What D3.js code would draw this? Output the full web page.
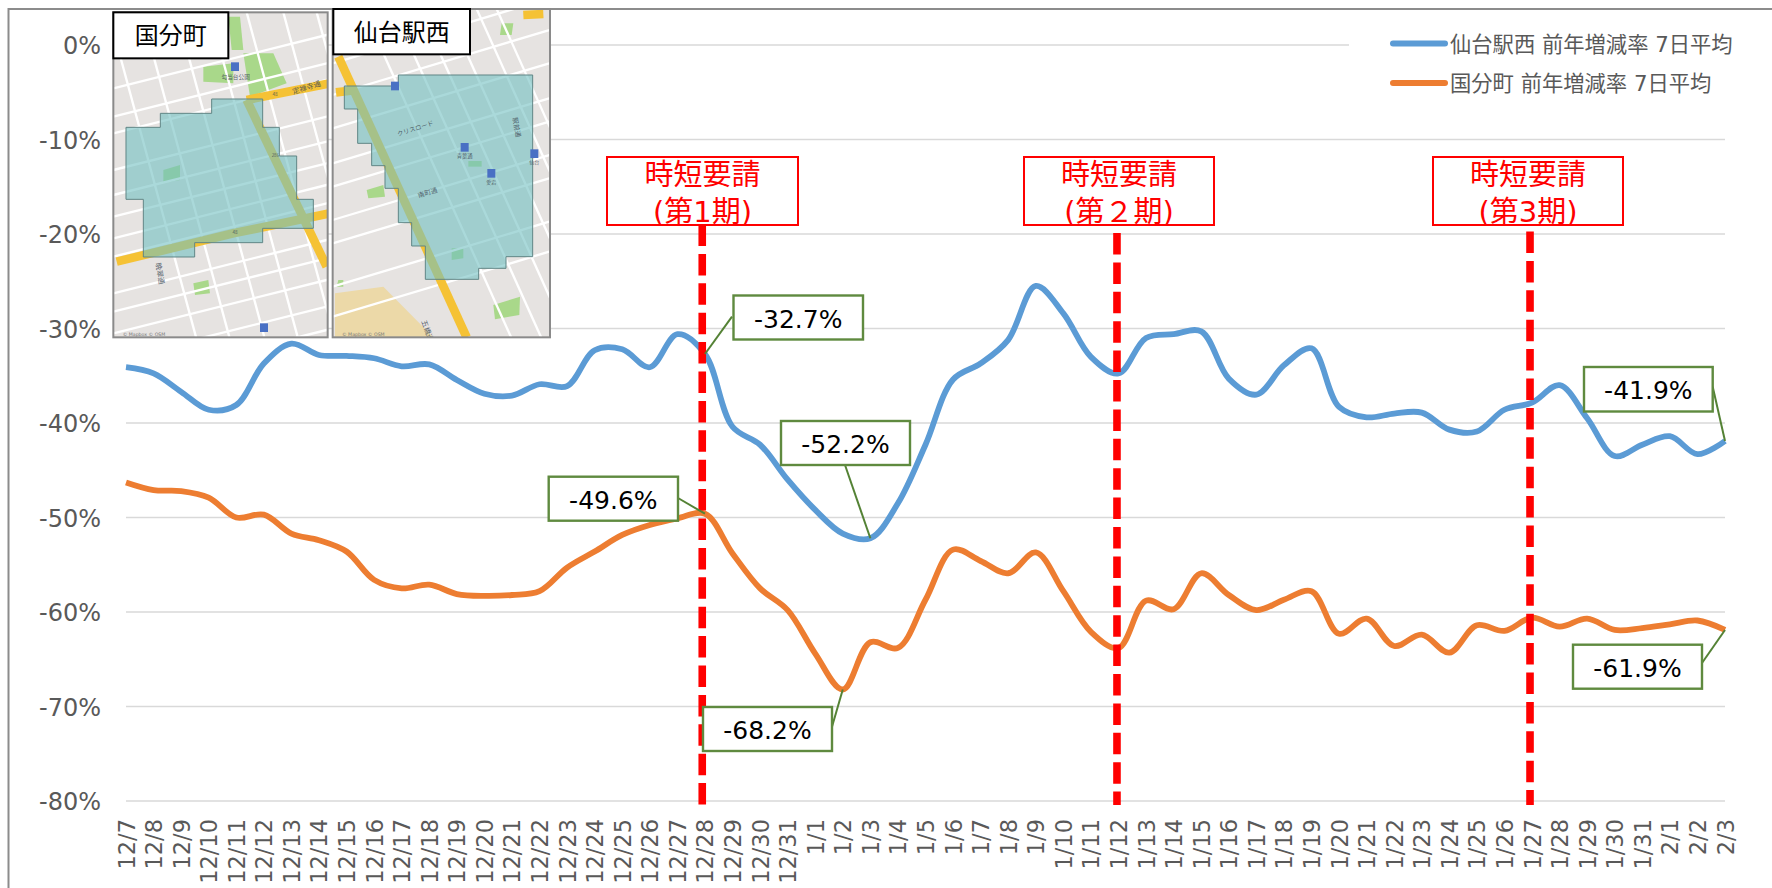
<!DOCTYPE html>
<html lang="ja"><head><meta charset="utf-8">
<script src="https://cdnjs.cloudflare.com/ajax/libs/d3/7.8.5/d3.min.js"></script>
<style>html,body{margin:0;padding:0;background:#fff;overflow:hidden}svg{display:block}</style>
</head><body><div id="c"></div>
<script>
const dates = ["12/7","12/8","12/9","12/10","12/11","12/12","12/13","12/14","12/15","12/16","12/17","12/18","12/19","12/20","12/21","12/22","12/23","12/24","12/25","12/26","12/27","12/28","12/29","12/30","12/31","1/1","1/2","1/3","1/4","1/5","1/6","1/7","1/8","1/9","1/10","1/11","1/12","1/13","1/14","1/15","1/16","1/17","1/18","1/19","1/20","1/21","1/22","1/23","1/24","1/25","1/26","1/27","1/28","1/29","1/30","1/31","2/1","2/2","2/3"];
const sendaiWest = [-34.1,-34.75,-36.7,-38.6,-38.1,-33.7,-31.6,-32.8,-32.9,-33.15,-34.0,-33.8,-35.45,-36.9,-37.1,-35.9,-36.1,-32.3,-32.2,-34.1,-30.6,-32.7,-40.4,-42.3,-46.0,-49.2,-51.7,-52.2,-48.5,-42.3,-35.4,-33.7,-31.2,-25.5,-28.4,-33.0,-34.75,-31.0,-30.6,-30.3,-35.3,-37.0,-33.9,-32.1,-38.3,-39.4,-39.0,-38.9,-40.7,-40.9,-38.6,-37.85,-36.0,-39.5,-43.5,-42.3,-41.4,-43.3,-41.9];
const kokubuncho = [-46.3,-47.1,-47.2,-47.9,-50.0,-49.7,-51.7,-52.4,-53.6,-56.6,-57.5,-57.1,-58.1,-58.3,-58.2,-57.8,-55.3,-53.6,-51.85,-50.8,-50.1,-49.6,-53.8,-57.5,-59.8,-64.4,-68.2,-63.2,-63.8,-58.7,-53.4,-54.6,-55.9,-53.7,-57.8,-62.1,-63.8,-58.8,-59.7,-55.9,-58.2,-59.8,-58.7,-57.8,-62.3,-60.7,-63.6,-62.4,-64.3,-61.4,-62.0,-60.6,-61.55,-60.7,-61.9,-61.7,-61.3,-60.9,-61.9];
const yTicks = [0,-10,-20,-30,-40,-50,-60,-70,-80];
const seriesNames = ["仙台駅西 前年増減率 7日平均","国分町 前年増減率 7日平均"];
const seriesColors = ["#5B9BD5","#ED7D31"];
const periods = [
  {date:"12/28",lines:["時短要請","(第1期)"],box:[607,157,191,68],top:224.5,dx:-2.7},
  {date:"1/12", lines:["時短要請","(第２期)"],box:[1024,157,190,68],top:233,dx:-1.5},
  {date:"1/27", lines:["時短要請","(第3期)"],box:[1433,157,190,68],top:231.5,dx:-2}
];
const callouts = [
  {s:0,date:"12/28",box:[733.5,295.5,129.5,44],from:[732,316.7]},
  {s:0,date:"1/3",  box:[781,421,129,44],from:[845,465]},
  {s:1,date:"12/28",box:[548.7,476.7,129.3,44],from:[678,498]},
  {s:1,date:"1/2",  box:[703,707,129,44],from:[832,726.7]},
  {s:0,date:"2/3",  box:[1584,367,128.7,44.5],from:[1712.7,386.7]},
  {s:1,date:"2/3",  box:[1573,644.7,129,44],from:[1702,663]}
];
const FONT = "'DejaVu Sans',Verdana,sans-serif";
const JP = "'Noto Sans CJK JP','Noto Sans',sans-serif";
const MIX = "'DejaVu Sans','Noto Sans CJK JP',sans-serif";
const values = [sendaiWest,kokubuncho];

const svg = d3.select("#c").append("svg").attr("width",1772).attr("height",888).attr("viewBox","0 0 1772 888");
const x = d3.scalePoint().domain(dates).range([126,1725]);
const y = d3.scaleLinear().domain([-80,0]).range([801,45]);

// outer frame (open on right & bottom)
svg.append("path").attr("d","M8.5,888V9H1772").attr("fill","none").attr("stroke","#8c8c8c").attr("stroke-width",2);

// grid + axes
svg.append("g").selectAll("line").data(yTicks).join("line")
  .attr("x1",126).attr("x2",1725).attr("y1",d=>y(d)).attr("y2",d=>y(d))
  .attr("stroke","#d9d9d9").attr("stroke-width",1.6);
svg.append("g").selectAll("text").data(yTicks).join("text")
  .attr("x",101).attr("y",d=>y(d)+9).attr("text-anchor","end")
  .attr("font-family",FONT).attr("font-size",24).attr("fill","#595959").text(d=>d+"%");
svg.append("g").selectAll("text").data(dates).join("text")
  .attr("transform",d=>`translate(${x(d)+8.5},819) rotate(-90)`).attr("text-anchor","end")
  .attr("font-family",FONT).attr("font-size",22.5).attr("fill","#595959").text(d=>d);

// legend
const lg = svg.append("g");
lg.append("rect").attr("x",1349).attr("y",30).attr("width",423).attr("height",70).attr("fill","#fff");
seriesNames.forEach((n,i)=>{
  const ly = 43.5+i*39.5;
  lg.append("line").attr("x1",1393).attr("x2",1445).attr("y1",ly).attr("y2",ly)
    .attr("stroke",seriesColors[i]).attr("stroke-width",6).attr("stroke-linecap","round");
  lg.append("text").attr("x",1450).attr("y",ly+8).attr("font-family",MIX).attr("font-size",21.3)
    .attr("fill","#595959").text(n);
});

// lines
const line = d3.line().x((d,i)=>x(dates[i])).y(d=>y(d)).curve(d3.curveCatmullRom.alpha(0.5));
values.forEach((v,i)=>{
  svg.append("path").attr("d",line(v)).attr("fill","none").attr("stroke",seriesColors[i])
    .attr("stroke-width",5.8).attr("stroke-linejoin","round");
});

// period markers
periods.forEach(p=>{
  const px = x(p.date)+p.dx;
  svg.append("line").attr("x1",px).attr("x2",px).attr("y1",p.top).attr("y2",805)
    .attr("stroke","#ff0000").attr("stroke-width",7.6).attr("stroke-dasharray","21.5 7.9");
  svg.append("rect").attr("x",p.box[0]).attr("y",p.box[1]).attr("width",p.box[2]).attr("height",p.box[3])
    .attr("fill","#fff").attr("stroke","#ff0000").attr("stroke-width",2);
  p.lines.forEach((t,j)=>{
    svg.append("text").attr("x",p.box[0]+p.box[2]/2).attr("y",p.box[1]+28+j*37)
      .attr("text-anchor","middle").attr("font-family",MIX).attr("font-size",29)
      .attr("fill","#ff0000").text(t);
  });
});

// callouts
callouts.forEach(c=>{
  const v = values[c.s][dates.indexOf(c.date)];
  svg.append("line").attr("x1",c.from[0]).attr("y1",c.from[1]).attr("x2",x(c.date)).attr("y2",y(v))
    .attr("stroke","#548235").attr("stroke-width",2);
  svg.append("rect").attr("x",c.box[0]).attr("y",c.box[1]).attr("width",c.box[2]).attr("height",c.box[3])
    .attr("fill","#fff").attr("stroke","#5f8a3f").attr("stroke-width",2.4);
  svg.append("text").attr("x",c.box[0]+c.box[2]/2).attr("y",c.box[1]+32)
    .attr("text-anchor","middle").attr("font-family",FONT).attr("font-size",25)
    .attr("fill","#000").text(v.toFixed(1)+"%");
});

// --- inset maps (drawn in zoom-space units, 1/3 px) ---
const defs = svg.append("defs");
defs.append("filter").attr("id","soft").append("feGaussianBlur").attr("stdDeviation",1.6);
const maps = [
 {name:"国分町",frame:[40,37,683,1012],
  tag:[40,37,345,138],
  parks:[[310,200,400,190,400,250,310,245],[430,160,520,160,560,250,450,290],[385,50,420,50,430,150,395,150],[280,850,325,840,330,880,285,885],[190,510,240,495,240,540,190,548]],
  ew:{slope:-0.25,offs:[265,350,400,510,585,650,715,770,880,935,1000,1080,1150],w:7},
  ns:{slope:0.27,offs:[-15,85,190,290,400,510,610,690],w:7},
  yellow:[[[50,785],[400,700],[690,640]],[[440,300],[680,800]],[[440,300],[690,250]]],
  poly:[335,297,488,297,488,382,538,382,538,468,590,468,590,598,640,598,640,685,488,685,488,728,284,728,284,771,130,771,130,598,78,598,78,382,181,382,181,340,335,340],
  icons:[[405,200],[492,983]],
  labels:[["定禅寺通",622,270,-17,22],["勾当台公園",407,237,0,17],["晩翠通",172,822,80,22],["48",525,288,0,14],["286",526,470,0,13],["48",405,703,0,14]]},
 {name:"仙台駅西",frame:[698,27,1350,1012],
  tag:[700,27,410,136],
  parks:[[1205,70,1240,70,1235,105,1200,105],[800,570,850,555,855,590,805,595],[1180,915,1260,890,1258,945,1185,958],[1055,745,1090,745,1090,775,1055,780],[715,840,730,840,730,860,710,860],[1105,483,1145,483,1145,500,1105,500]],
  sand:[[705,880,850,860,1000,1012,705,1012]],
  ew:{slope:-0.3,offs:[190,285,385,490,560,660,730,860,950],w:7},
  ns:{slope:0.45,offs:[790,880,960,1040,1130,1190],w:7},
  yellow:[[[715,170],[1100,1012]],[[708,277],[770,270]],[[1270,45],[1330,42]]],
  poly:[895,225,1298,225,1298,770,1218,770,1218,805,1136,805,1136,838,976,838,976,738,935,738,935,668,895,668,895,565,855,565,855,497,815,497,815,430,773,430,773,327,733,327,733,258,895,258],
  icons:[[885,258],[1094,442],[1174,520],[1303,461]],
  labels:[["クリスロード",948,392,-18,19],["駅前通",1243,383,80,20],["南町通",985,585,-18,20],["青葉通",1094,473,0,16],["仙台",1303,492,0,15],["五橋通",975,995,70,22],["愛宕",1174,552,0,15]]}
];
const mg = svg.append("g").attr("transform","translate(100,0) scale(0.33333)");
maps.forEach((m,k)=>{
  const [fx0,fy0,fx1,fy1] = m.frame;
  const cid = "clip"+k;
  defs.append("clipPath").attr("id",cid).append("rect").attr("x",fx0).attr("y",fy0).attr("width",fx1-fx0).attr("height",fy1-fy0);
  const g = mg.append("g").attr("clip-path",`url(#${cid})`);
  const s = g.append("g").attr("filter","url(#soft)");
  s.append("rect").attr("x",fx0-5).attr("y",fy0-5).attr("width",fx1-fx0+10).attr("height",fy1-fy0+10).attr("fill","#e6e3e1");
  (m.sand||[]).forEach(p=>s.append("polygon").attr("points",p.join(",")).attr("fill","#ecd9a8"));
  m.parks.forEach(p=>s.append("polygon").attr("points",p.join(",")).attr("fill","#a9d88a"));
  m.ew.offs.forEach(o=>s.append("line").attr("x1",fx0).attr("x2",fx1).attr("y1",o).attr("y2",o+(fx1-fx0)*m.ew.slope)
     .attr("stroke","#fff").attr("stroke-width",m.ew.w));
  m.ns.offs.forEach(o=>s.append("line").attr("x1",fx0+o-(k?fx0:0)).attr("x2",fx0+o-(k?fx0:0)+(fy1-fy0)*m.ns.slope).attr("y1",fy0).attr("y2",fy1)
     .attr("stroke","#fff").attr("stroke-width",m.ns.w));
  m.yellow.forEach(r=>s.append("polyline").attr("points",r.join(" ")).attr("fill","none").attr("stroke","#f5c234").attr("stroke-width",26));
  s.append("polygon").attr("points",m.poly.join(",")).attr("fill","#72bfc2").attr("fill-opacity",0.6).attr("stroke","#5f8686").attr("stroke-width",3);
  m.icons.forEach(c=>s.append("rect").attr("x",c[0]-12).attr("y",c[1]-13).attr("width",24).attr("height",26).attr("fill","#4a6fc4"));
  m.labels.forEach(l=>g.append("text").attr("transform",`translate(${l[1]},${l[2]}) rotate(${l[3]})`).attr("text-anchor","middle")
     .attr("font-family",JP).attr("font-size",l[4]).attr("fill","#3d4a55").attr("fill-opacity",0.85).text(l[0]));
  g.append("text").attr("x",fx0+28).attr("y",fy1-4).attr("font-family",FONT).attr("font-size",14).attr("fill","#777").text("© Mapbox © OSM");
  mg.append("rect").attr("x",fx0).attr("y",fy0).attr("width",fx1-fx0).attr("height",fy1-fy0).attr("fill","none").attr("stroke","#8a8a8a").attr("stroke-width",6);
  mg.append("rect").attr("x",m.tag[0]).attr("y",m.tag[1]).attr("width",m.tag[2]).attr("height",m.tag[3]).attr("fill","#fff").attr("stroke","#000").attr("stroke-width",6);
  mg.append("text").attr("x",m.tag[0]+m.tag[2]/2).attr("y",m.tag[1]+m.tag[3]/2+27).attr("text-anchor","middle")
    .attr("font-family",JP).attr("font-size",72).attr("fill","#000").text(m.name);
});
</script></body></html>
